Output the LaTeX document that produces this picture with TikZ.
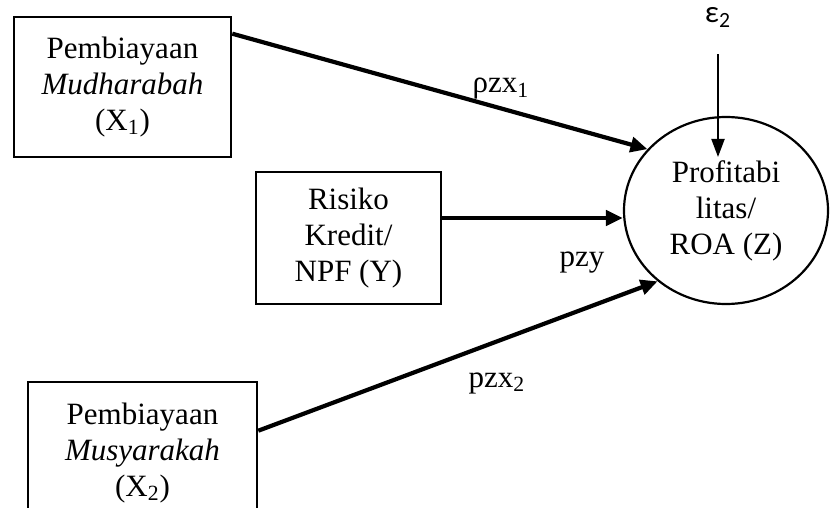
\documentclass[tikz,border=0pt]{standalone}
\usepackage{fontspec}
\setmainfont{Liberation Serif}
\newfontfamily\epsfont{Carlito}
\usetikzlibrary{shapes.geometric,arrows.meta}

\begin{document}
\begin{tikzpicture}[x=0.5pt, y=-0.5pt,
    font=\fontsize{15.5}{18}\selectfont,
    varbox/.style={draw, line width=1.3pt, align=center, inner sep=0pt},
    path arrow/.style={line width=2.1pt, -{Triangle[length=8.5pt,width=7.5pt]}},
  ]
  \useasboundingbox (0,0) rectangle (830,508);

  % Exogenous variables (left)
  \node[varbox, minimum width=108.5pt, minimum height=70pt] (mud) at (122.5,87)
    {Pembiayaan\\\textit{Mudharabah}\\(X\textsubscript{1})};
  \node[varbox, minimum width=92.5pt, minimum height=66pt] (npf) at (348.5,238)
    {Risiko\\Kredit/\\NPF (Y)};
  \node[varbox, minimum width=114.5pt, minimum height=71pt] (mus) at (142.5,453)
    {Pembiayaan\\\textit{Musyarakah}\\(X\textsubscript{2})};

  % Endogenous variable
  \node[draw, ellipse, line width=1.1pt, minimum width=102pt, minimum height=93.5pt,
    inner sep=0pt, align=center] (roa) at (726,210.5) {Profitabi\\litas/\\ROA (Z)};

  % Residual
  \node[anchor=base, font=\epsfont\fontsize{15.5}{18}\selectfont] (eps) at (718,23)
    {ε\textsubscript{2}};
  \coordinate (epstip) at (718,157);
  \draw[line width=1pt, -{Triangle[length=9pt,width=6.5pt]}, shorten <=10pt]
    (eps.south) -- (epstip);

  % Paths
  \draw[path arrow] ([yshift=-9pt]mud.north east) -- (roa.142);
  \coordinate (npfout) at ([yshift=10pt]npf.east);
  \draw[path arrow] (npfout) -- (npfout -| roa.west);
  \draw[path arrow] ([yshift=-25pt]mus.north east) -- (roa.226);

  % Path coefficients
  \node[anchor=base] (rzx) at (501,93) {ρzx\textsubscript{1}};
  \node[anchor=base] (pzy) at (582,266) {pzy};
  \node[anchor=base] (pzx) at (497,387) {pzx\textsubscript{2}};
\end{tikzpicture}
\end{document}
